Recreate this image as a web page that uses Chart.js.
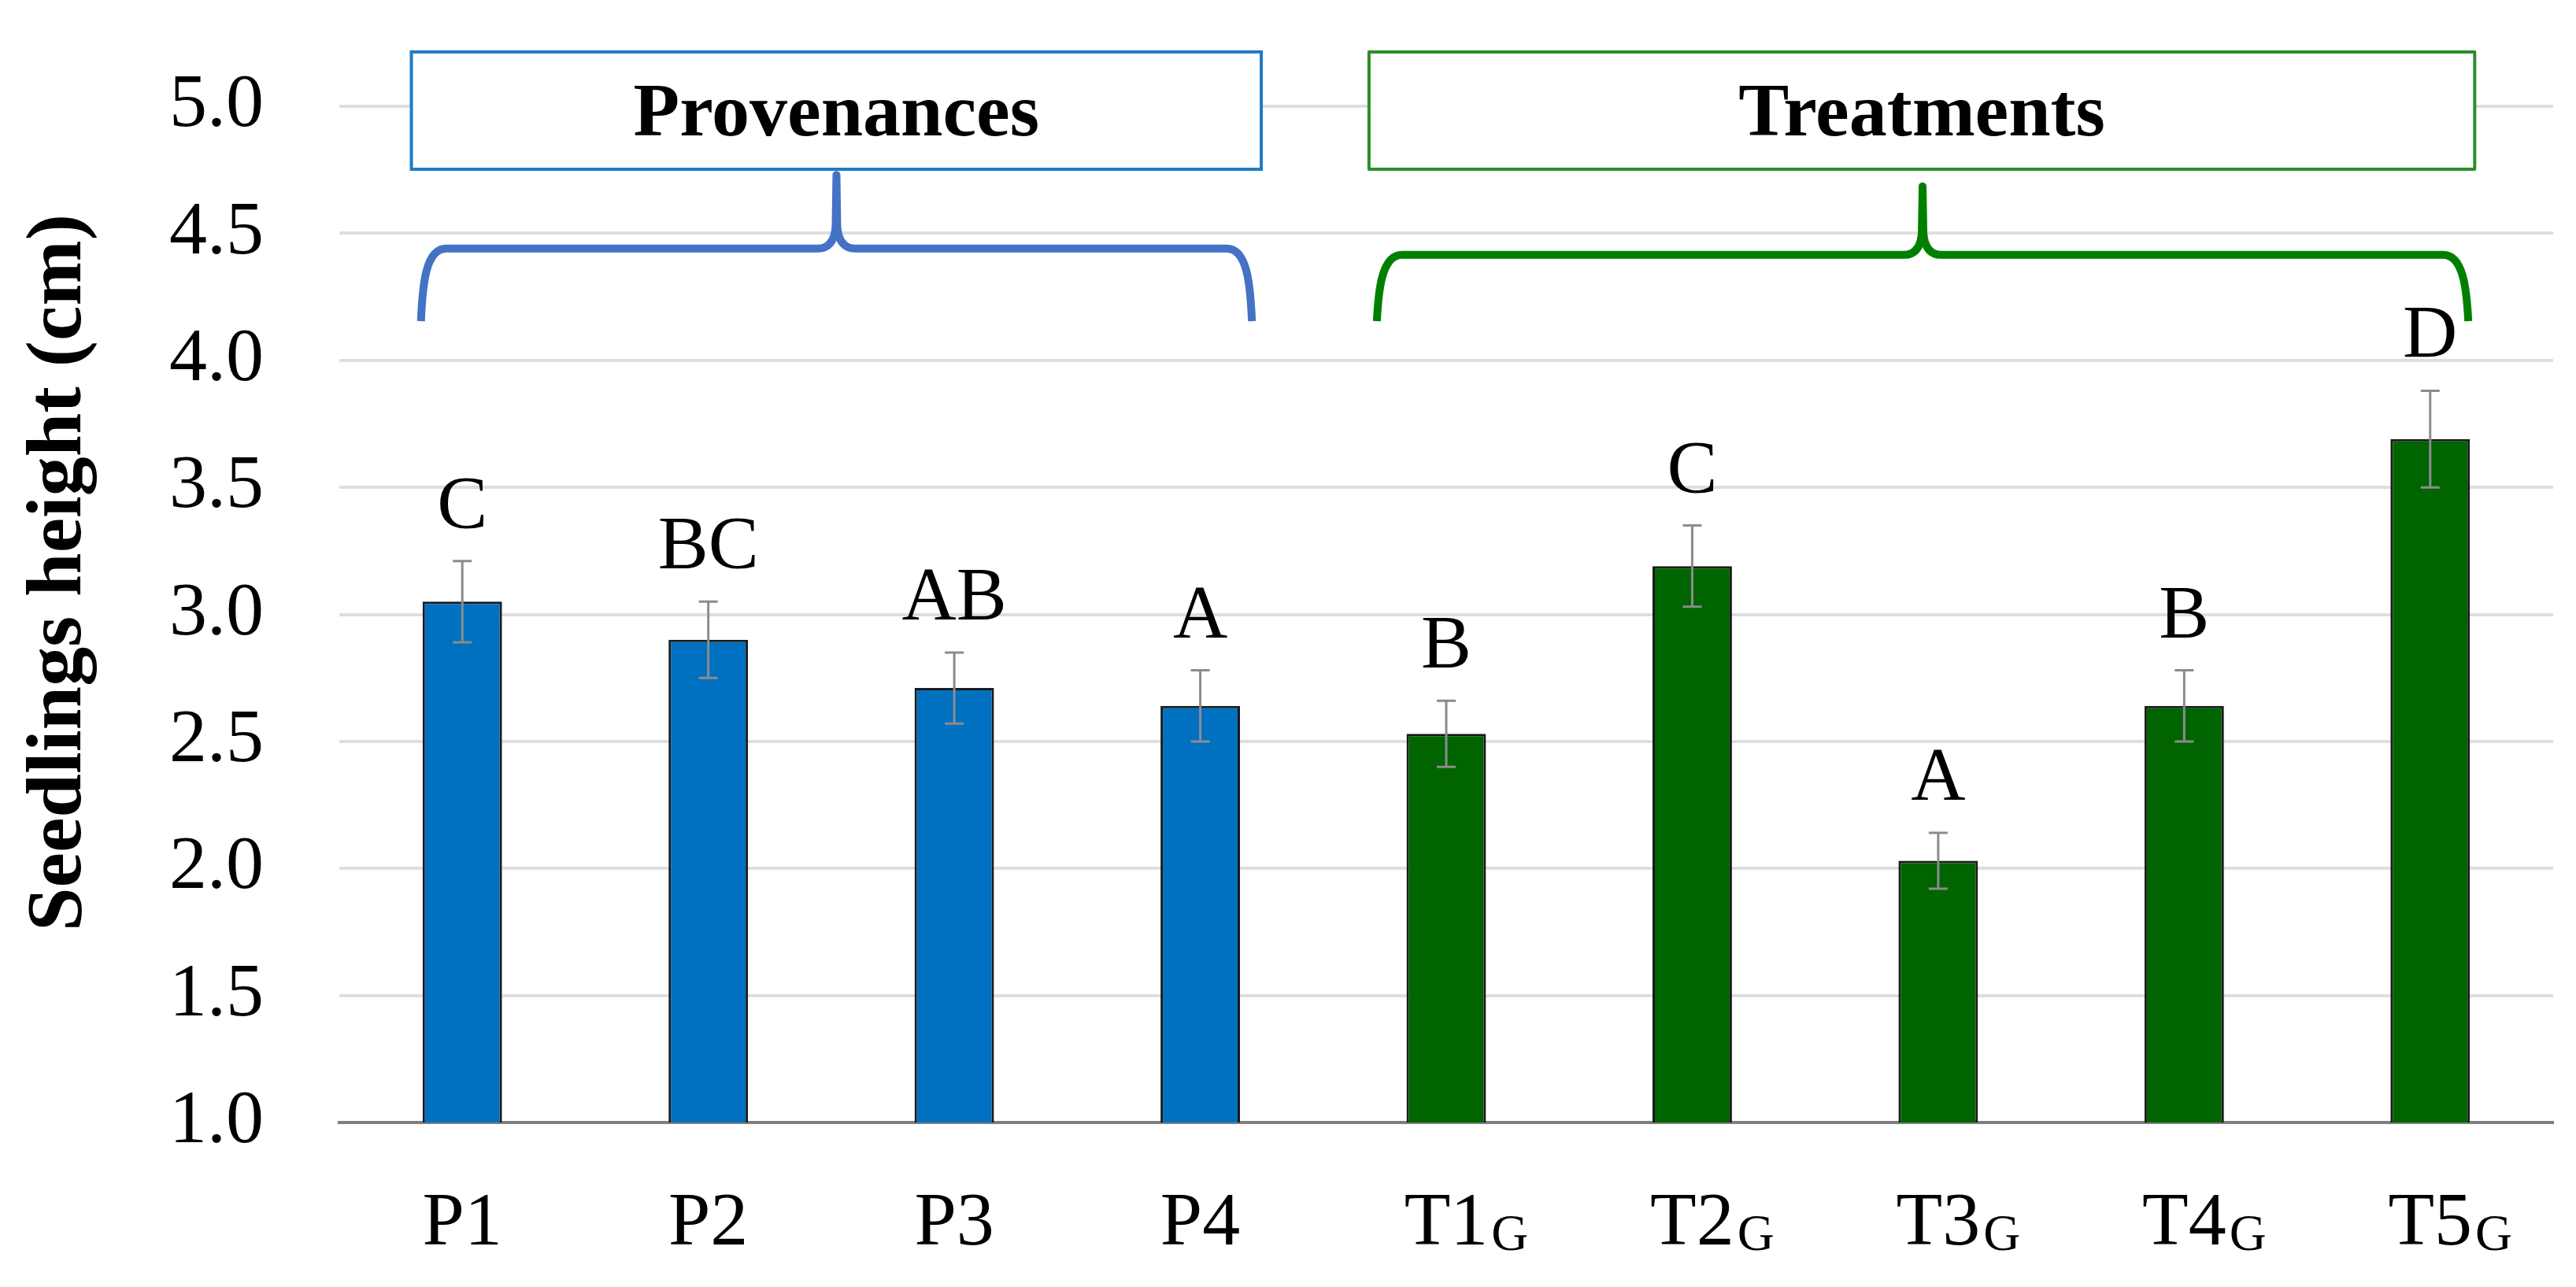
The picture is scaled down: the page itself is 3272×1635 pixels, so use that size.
<!DOCTYPE html>
<html>
<head>
<meta charset="utf-8">
<script src="https://cdn.jsdelivr.net/npm/chart.js@4.4.1/dist/chart.umd.min.js"></script>
<style>
  html, body { margin: 0; padding: 0; background: #fff; }
  #wrap { width: 3272px; height: 1635px; }
</style>
</head>
<body>
<div id="wrap"><canvas id="chart" width="3272" height="1635"></canvas></div>
<script>
// data
const categories = ['P1', 'P2', 'P3', 'P4', 'T1', 'T2', 'T3', 'T4', 'T5'];
const subscripts = ['', '', '', '', 'G', 'G', 'G', 'G', 'G'];
const heights = [3.05, 2.90, 2.71, 2.64, 2.53, 3.19, 2.03, 2.64, 3.69];
const errors = [0.16, 0.15, 0.14, 0.14, 0.13, 0.16, 0.11, 0.14, 0.19];
const letters = ['C', 'BC', 'AB', 'A', 'B', 'C', 'A', 'B', 'D'];
const groupNames = ['Provenances', 'Treatments'];
const groupSizes = [4, 5];
const yMin = 1.0, yMax = 5.0, yStep = 0.5;
const yTitle = 'Seedlings height (cm)';

const SERIF = '"Liberation Serif", "Times New Roman", serif';
const barColors = categories.map((c, i) => (i < groupSizes[0] ? '#0070C0' : '#006400'));

// per group: box / brace colours and how far they stick out past the first / last bar
const groupStyle = [
  { box: '#1f7bc6', brace: '#4472C4', boxExt: [0.207, 0.248], braceExt: [0.168, 0.21], tip: 4.73, arm: 4.44 },
  { box: '#2a8f2a', brace: '#008000', boxExt: [0.314, 0.181], braceExt: [0.282, 0.155], tip: 4.685, arm: 4.415 }
];

const overlay = {
  id: 'overlay',
  afterDatasetsDraw(chart) {
    const { ctx, scales: { x, y } } = chart;
    ctx.save();

    // error bars and significance letters
    heights.forEach((h, i) => {
      const px = x.getPixelForValue(i);
      const top = y.getPixelForValue(h + errors[i]);
      const bot = y.getPixelForValue(h - errors[i]);
      ctx.strokeStyle = '#8c8c8c';
      ctx.lineWidth = 3;
      ctx.beginPath();
      ctx.moveTo(px, top); ctx.lineTo(px, bot);
      ctx.moveTo(px - 12, top); ctx.lineTo(px + 12, top);
      ctx.moveTo(px - 12, bot); ctx.lineTo(px + 12, bot);
      ctx.stroke();

      ctx.fillStyle = '#000';
      ctx.font = `96px ${SERIF}`;
      ctx.textAlign = 'center';
      ctx.textBaseline = 'alphabetic';
      ctx.fillText(letters[i], px, top - 42);
    });

    // subscript G after the tick labels
    ctx.textAlign = 'left';
    categories.forEach((c, i) => {
      if (!subscripts[i]) return;
      ctx.font = `96px ${SERIF}`;
      const w = ctx.measureText(c).width;
      ctx.font = `65px ${SERIF}`;
      ctx.fillText(subscripts[i], x.getPixelForValue(i) + w / 2 + 4, x.top + 162);
    });

    // group boxes and braces
    let start = 0;
    groupNames.forEach((name, g) => {
      const st = groupStyle[g];
      const end = start + groupSizes[g] - 1;
      const half = x.getPixelForValue(1) - x.getPixelForValue(0);

      const bx0 = x.getPixelForValue(start) - st.boxExt[0] * half;
      const bx1 = x.getPixelForValue(end) + st.boxExt[1] * half;
      const by0 = y.getPixelForValue(5.214);
      const by1 = y.getPixelForValue(4.752);
      ctx.fillStyle = '#fff';
      ctx.fillRect(bx0, by0, bx1 - bx0, by1 - by0);
      ctx.strokeStyle = st.box;
      ctx.lineWidth = 4;
      ctx.strokeRect(bx0, by0, bx1 - bx0, by1 - by0);
      ctx.fillStyle = '#000';
      ctx.font = `bold 96px ${SERIF}`;
      ctx.textAlign = 'center';
      ctx.fillText(name, (bx0 + bx1) / 2, (by0 + by1) / 2 + 32);

      const x0 = x.getPixelForValue(start) - st.braceExt[0] * half;
      const x1 = x.getPixelForValue(end) + st.braceExt[1] * half;
      const xc = (x0 + x1) / 2;
      const yb = y.getPixelForValue(4.154);
      const yh = y.getPixelForValue(st.arm);
      const yt = y.getPixelForValue(st.tip);
      ctx.strokeStyle = st.brace;
      ctx.lineWidth = 10;
      ctx.lineJoin = 'round';
      ctx.beginPath();
      ctx.moveTo(x0, yb);
      ctx.bezierCurveTo(x0 + 2, yh + 45, x0 + 6, yh, x0 + 32, yh);
      ctx.lineTo(xc - 24, yh);
      ctx.quadraticCurveTo(xc - 3, yh, xc - 1, yh - 28);
      ctx.lineTo(xc, yt);
      ctx.lineTo(xc + 1, yh - 28);
      ctx.quadraticCurveTo(xc + 3, yh, xc + 24, yh);
      ctx.lineTo(x1 - 32, yh);
      ctx.bezierCurveTo(x1 - 6, yh, x1 - 2, yh + 45, x1, yb);
      ctx.stroke();

      start = end + 1;
    });

    // y axis title
    ctx.translate(102, (y.top + y.bottom) / 2 - 53);
    ctx.rotate(-Math.PI / 2);
    ctx.fillStyle = '#000';
    ctx.font = `bold 100px ${SERIF}`;
    ctx.textAlign = 'center';
    ctx.textBaseline = 'alphabetic';
    ctx.fillText(yTitle, 0, 0);

    ctx.restore();
  }
};

new Chart(document.getElementById('chart'), {
  type: 'bar',
  data: {
    labels: categories,
    datasets: [{
      data: heights,
      backgroundColor: barColors,
      borderColor: '#1a1a1a',
      borderWidth: 3,
      categoryPercentage: 1,
      barPercentage: 0.323
    }]
  },
  options: {
    responsive: false,
    animation: false,
    devicePixelRatio: 1,
    layout: { padding: { top: 135, right: 29, left: 0, bottom: 0 } },
    plugins: { legend: { display: false }, tooltip: { enabled: false } },
    scales: {
      x: {
        grid: { display: false, drawTicks: false },
        border: { display: true, color: '#7f7f7f', width: 4 },
        ticks: { color: '#000', font: { family: SERIF, size: 96 }, padding: 72 },
        afterFit: (s) => { s.height = 209; }
      },
      y: {
        min: yMin,
        max: yMax,
        grid: {
          color: (c) => (c.tick && c.tick.value === yMin ? 'rgba(0,0,0,0)' : '#dedede'),
          lineWidth: 4,
          drawTicks: false
        },
        border: { display: false },
        ticks: {
          stepSize: yStep,
          color: '#000',
          // small lineHeight keeps the label overflow from pushing the chart area down
          font: { family: SERIF, size: 96, lineHeight: 0.3 },
          padding: 96,
          callback: (v) => Number(v).toFixed(1)
        },
        afterFit: (s) => { s.width = 431; }
      }
    }
  },
  plugins: [overlay]
});
</script>
</body>
</html>
